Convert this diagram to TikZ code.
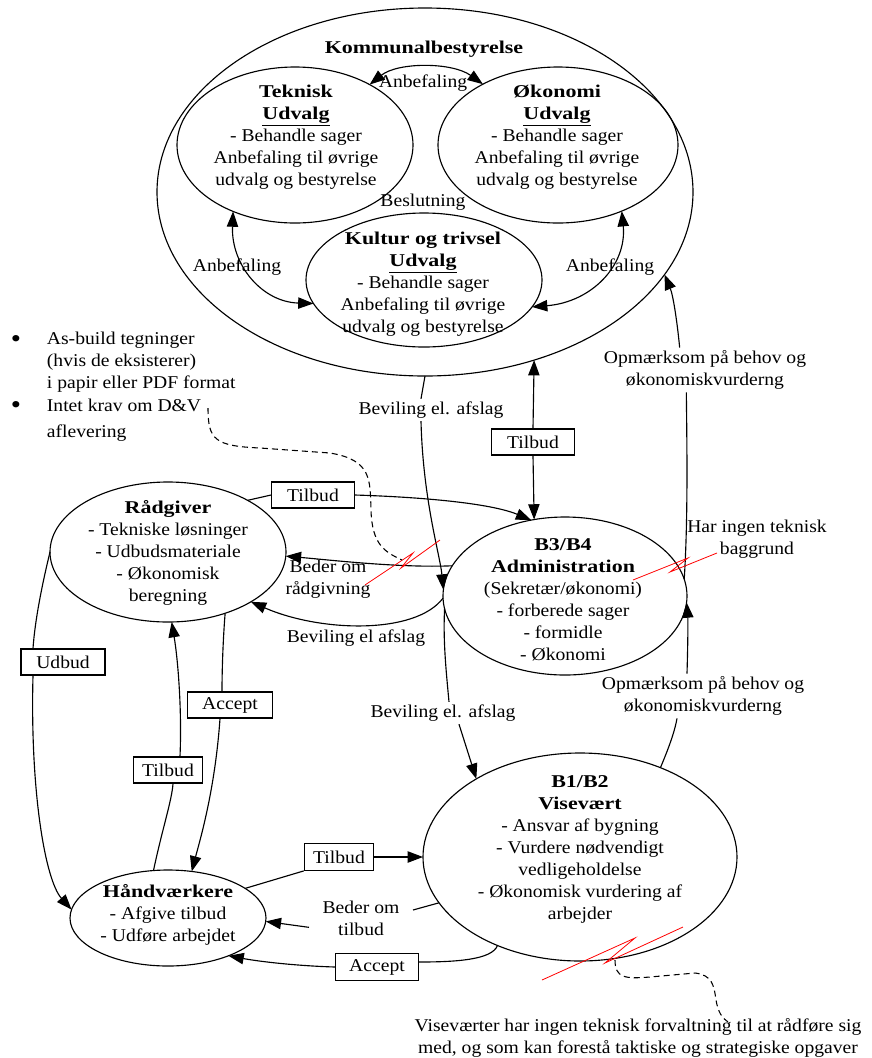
\documentclass[tikz,border=0pt]{standalone}
\usepackage{fontspec}
\setmainfont{Liberation Serif}[FakeStretch=1.09]
\newfontfamily\headfont{Liberation Serif}[FakeStretch=1.22]
\usetikzlibrary{shapes.geometric,arrows.meta}
\newcommand{\hd}[1]{{\headfont\bfseries #1}}
\begin{document}
\begin{tikzpicture}[x=0.75pt,y=-0.75pt,
  every node/.style={font=\fontsize{13.5pt}{16.5pt}\selectfont},
  ell/.style={draw, ellipse, inner sep=0pt, outer sep=0pt, line width=0.85pt},
  txt/.style={align=center, inner sep=1pt},
  lab/.style={align=center, inner sep=2pt},
  dot/.style={font=\fontsize{20pt}{20pt}\selectfont, inner sep=0pt},
  tag/.style={draw, line width=0.85pt, inner sep=0pt, minimum height=19.5pt},
  edge/.style={line width=0.85pt},
  arr/.style={edge, -{Triangle[length=11.5pt,width=8.5pt]}},
  larr/.style={edge, {Triangle[length=11.5pt,width=8.5pt]}-},
  darr/.style={edge, {Triangle[length=11.5pt,width=8.5pt]}-{Triangle[length=11.5pt,width=8.5pt]}},
  bolt/.style={red, line width=0.6pt},
  note/.style={line width=0.8pt, dash pattern=on 4.5pt off 3pt}]
\useasboundingbox (0,0) rectangle (872,1058);

% council cluster and its committees
\node[ell, minimum width=402pt, minimum height=276pt] (kom) at (425,192) {};
\node[ell, minimum width=177pt, minimum height=117pt] (tek) at (295,145) {};
\node[ell, minimum width=180pt, minimum height=117pt] (oko) at (558,145) {};
\node[ell, minimum width=177pt, minimum height=100.5pt] (kul) at (424,280) {};
% actors
\node[ell, minimum width=183pt, minimum height=118.5pt] (adm) at (565,596) {};
\node[ell, minimum width=235.5pt, minimum height=156pt] (vis) at (580,857) {};
\node[ell, minimum width=177pt, minimum height=105pt] (rad) at (168,552) {};
\node[ell, minimum width=147pt, minimum height=72pt] (hand) at (168,918) {};

% texts inside the ellipses
\node[txt] (komT) at (424,49) {\hd{Kommunalbestyrelse}};
\node[txt] (tekT) at (296,137.5) {\hd{Teknisk}\\\hd{\underline{Udvalg}}\\- Behandle sager\\Anbefaling til øvrige\\udvalg og bestyrelse};
\node[txt] (okoT) at (557,137.5) {\hd{Økonomi}\\\hd{\underline{Udvalg}}\\- Behandle sager\\Anbefaling til øvrige\\udvalg og bestyrelse};
\node[txt] (kulT) at (423,284.5) {\hd{Kultur og trivsel}\\\hd{\underline{Udvalg}}\\- Behandle sager\\Anbefaling til øvrige\\udvalg og bestyrelse};
\node[txt] (admT) at (563,599.5) {\hd{B3/B4}\\\hd{Administration}\\(Sekretær/økonomi)\\- forberede sager\\- formidle\\- Økonomi};
\node[txt] (visT) at (580,849.5) {\hd{B1/B2}\\\hd{Visevært}\\- Ansvar af bygning\\- Vurdere nødvendigt\\vedligeholdelse\\- Økonomisk vurdering af\\arbejder};
\node[txt] (radT) at (168,553) {\hd{Rådgiver}\\- Tekniske løsninger\\- Udbudsmateriale\\- Økonomisk\\beregning};
\node[txt] (handT) at (168,915) {\hd{Håndværkere}\\- Afgive tilbud\\- Udføre arbejdet};

% committee recommendations
\node[lab] (anbT) at (423,83) {Anbefaling};
\node[lab] (besl) at (423,202) {Beslutning};
\node[lab] (anbL) at (237,267) {Anbefaling};
\node[lab] (anbR) at (610,267) {Anbefaling};
\draw[darr] (tek.39) .. controls (398,62) and (452,62) .. (oko.141);
\draw[darr] (tek.227) .. controls (231,265) and (262,302) .. (kul.192);
\draw[darr] (oko.314) .. controls (627,265) and (592,302) .. (kul.346);

% council -> administration
\node[lab] (lbA) at (431,410) {Beviling el. afslag};
\draw[edge] (kom.270) -- ([xshift=-7.5pt]lbA.north);
\draw[arr] ([xshift=-7.5pt]lbA.south) .. controls (423,500) and (440,555) .. (adm.177);

% council <-> administration (offer)
\node[tag, minimum width=62pt] (tbA) at (533,442) {Tilbud};
\draw[larr] (kom.303) -- (tbA.north);
\draw[arr] (tbA.south) -- (adm.112);

% adviser -> administration (offer)
\node[tag, minimum width=62pt] (tbB) at (313,495) {Tilbud};
\draw[edge] (rad.33) -- (tbB.west);
\draw[arr] (tbB.east) .. controls (420,497) and (490,503) .. (adm.114);

% administration -> adviser
\node[lab] (bedR) at (328,579) {Beder om\\rådgivning};
\draw[arr] (adm.165) .. controls (400,568) and (330,560) .. (rad.358);
\node[lab] (bevR) at (356,638) {Beviling el afslag};
\draw[arr] (adm.181) .. controls (415,635) and (320,632) .. (rad.329);

% administration -> caretaker
\node[lab] (lbB) at (443,713) {Beviling el. afslag};
\draw[edge] (adm.186) .. controls (443,640) and (446,670) .. ([xshift=4.5pt]lbB.north);
\draw[arr] ([xshift=12pt]lbB.south) -- (vis.143);

% adviser <-> craftsmen
\node[tag, minimum width=63pt] (udb) at (63,662) {Udbud};
\draw[edge] (rad.180) .. controls (42,585) and (35,620) .. ([xshift=-22.5pt]udb.north);
\draw[arr] ([xshift=-22.5pt]udb.south) .. controls (30,790) and (45,880) .. (hand.175);
\node[tag, minimum width=52pt] (tbL) at (168,770) {Tilbud};
\draw[edge] (hand.107) .. controls (162,830) and (172,800) .. ([xshift=3.75pt]tbL.south);
\draw[arr] ([xshift=9pt]tbL.north) .. controls (182,710) and (178,660) .. (rad.273);
\node[tag, minimum width=64pt] (acL) at (230,705) {Accept};
\draw[edge] (rad.313) .. controls (223,640) and (222,670) .. ([xshift=-6pt]acL.north);
\draw[arr] ([xshift=-7.5pt]acL.south) .. controls (215,790) and (200,840) .. (hand.63);

% craftsmen <-> caretaker
\node[tag, minimum width=52pt, minimum height=20pt] (tbV) at (339,857) {Tilbud};
\draw[edge] (hand.21) -- (tbV.south west);
\draw[arr] (tbV.east) -- (vis.180);
\node[lab, inner xsep=10pt] (bedT) at (361,918) {Beder om\\tilbud};
\draw[edge] (vis.198) -- ([yshift=6pt]bedT.east);
\draw[arr] ([yshift=-7pt]bedT.west) -- (hand.358);
\node[tag, minimum width=62pt, minimum height=20pt] (acB) at (377,967) {Accept};
\draw[edge] (vis.227) .. controls (492,960) and (455,962) .. ([yshift=3.75pt]acB.east);
\draw[arr] (acB.west) .. controls (300,966) and (262,962) .. (hand.328);

% needs reported upwards
\node[lab] (opm2) at (703,696) {Opmærksom på behov og\\økonomiskvurderng};
\draw[edge] (vis.48) .. controls (670,745) and (675,730) .. ([xshift=-19.5pt]opm2.south);
\draw[arr] ([xshift=-12pt]opm2.north) .. controls (688,640) and (688,620) .. (adm.357);
\node[lab] (opm1) at (705,370) {Opmærksom på behov og\\økonomiskvurderng};
\draw[edge] (adm.8) .. controls (688,520) and (687,450) .. ([xshift=-14pt]opm1.south);
\draw[arr] ([xshift=-19pt]opm1.north) .. controls (677,320) and (673,295) .. (kom.341);

% remarks
\node[lab] (hit) at (757,539) {Har ingen teknisk\\baggrund};
\node[dot] (b1) at (16,341) {\textbullet};
\node[lab, align=left, anchor=west] (l1) at (44,362.5) {As-build tegninger\\(hvis de eksisterer)\\i papir eller PDF format};
\node[dot] (b2) at (16,407) {\textbullet};
\node[lab, align=left, anchor=west] (l2) at (44,420) {Intet krav om D\&V\\[3pt]aflevering};
\node[lab] (vnote) at (638,1038) {Viseværter har ingen teknisk forvaltning til at rådføre sig\\med, og som kan forestå taktiske og strategiske opgaver};

% broken communication marks
\draw[bolt] (365,585) -- (413,553) -- (401,568) -- (440,540);
\draw[bolt] (633,580) -- (688,558) -- (670,572) -- (717,553);
\draw[bolt] (542,980) -- (635,938) -- (605,963) -- (683,927);

% pointers from the remarks
\coordinate (dA) at (208,408);
\coordinate (dB) at (402,560);
\draw[note] (dA) .. controls (208,440) and (215,446) .. (260,448) -- (330,453)
  .. controls (372,460) and (370,480) .. (371,510) .. controls (372,545) and (385,552) .. (dB);
\coordinate (dC) at (615,960);
\coordinate (dD) at (728,1022);
\draw[note] (dC) .. controls (615,978) and (625,979) .. (650,977) -- (695,973)
  .. controls (712,975) and (714,985) .. (716,1000) .. controls (718,1012) and (722,1018) .. (dD);
\end{tikzpicture}
\end{document}
